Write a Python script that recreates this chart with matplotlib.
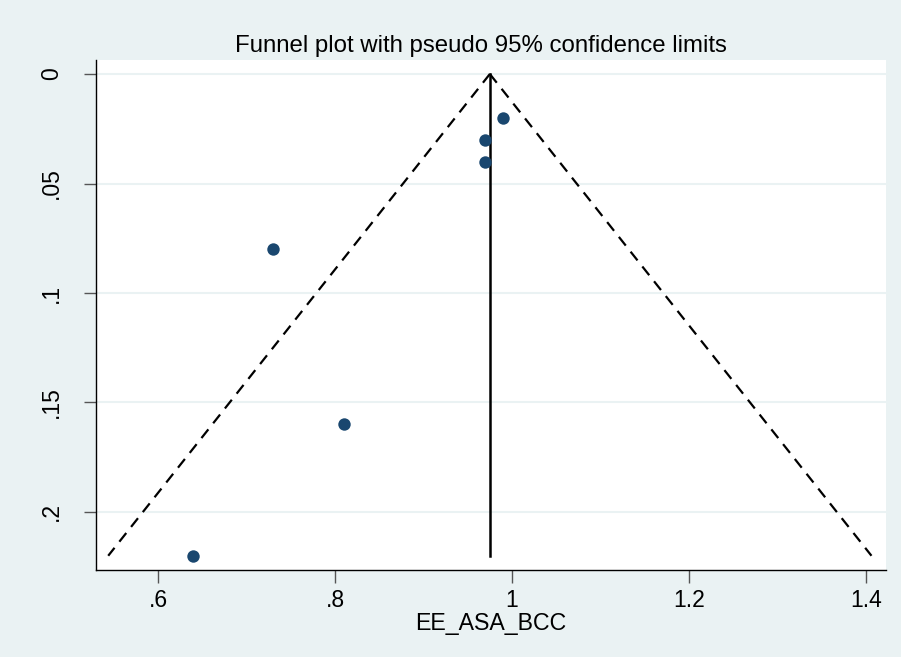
import numpy as np
import matplotlib
matplotlib.use("Agg")
import matplotlib.pyplot as plt

plt.rcParams['font.family'] = ['Liberation Sans', 'DejaVu Sans']

# study effect sizes and their standard errors
effect = [0.99, 0.97, 0.97, 0.73, 0.81, 0.64]
se = [0.020, 0.030, 0.040, 0.080, 0.160, 0.220]
pooled = 0.975

x_ticks = [0.6, 0.8, 1.0, 1.2, 1.4]
x_labels = ['.6', '.8', '1', '1.2', '1.4']
y_ticks = [0, 0.05, 0.1, 0.15, 0.2]
y_labels = ['0', '.05', '.1', '.15', '.2']

bg = '#EAF2F3'

fig = plt.figure(figsize=(9.01, 6.57), dpi=100, facecolor=bg)
ax = fig.add_axes([96 / 901, 1 - 570 / 657, 790 / 901, 510 / 657])
ax.set_facecolor('white')

# pseudo 95% limits
se_max = max(se)
s = np.array([0, se_max])
ax.plot(pooled - 1.96 * s, s, color='black', lw=1.6, ls=(0, (5, 3.5)))
ax.plot(pooled + 1.96 * s, s, color='black', lw=1.6, ls=(0, (5, 3.5)))
ax.plot([pooled, pooled], [0, se_max], color='black', lw=1.8)

ax.scatter(effect, se, s=80, color='#1A476F', zorder=3, linewidths=0)

ax.set_xlim(0.53, 1.4226)
ax.set_ylim(0.2265, -0.0064)
ax.set_xticks(x_ticks)
ax.set_xticklabels(x_labels)
ax.set_yticks(y_ticks)
ax.set_yticklabels(y_labels, rotation=90, va='center')

for t in y_ticks:
    ax.axhline(t, color=bg, lw=1.5, zorder=0)

for side in ['top', 'right']:
    ax.spines[side].set_visible(False)
for side in ['left', 'bottom']:
    ax.spines[side].set_color('black')
    ax.spines[side].set_linewidth(1.0)

ax.tick_params(axis='both', labelsize=16.5, length=9, width=1, color='#555555',
               direction='out')
ax.tick_params(axis='x', pad=4.5)
ax.tick_params(axis='y', pad=15)

ax.set_title('Funnel plot with pseudo 95% confidence limits', fontsize=17.3,
             pad=6, x=0.487)
ax.set_xlabel('EE_ASA_BCC', fontsize=16.7, labelpad=0)

fig.savefig('out.png', dpi=100, facecolor=bg)
